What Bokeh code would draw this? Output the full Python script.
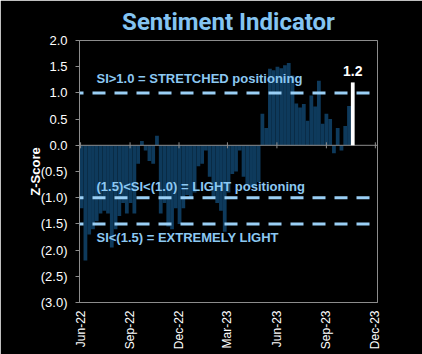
import math
import pandas as pd
from bokeh.plotting import figure
from bokeh.models import (Span, Label, FixedTicker, DatetimeTickFormatter, Range1d,
                          ColumnDataSource)
from bokeh.embed import file_html
from bokeh.resources import INLINE

# ---------------- data ----------------
z_scores = [-1.20, -2.20, -1.70, -1.60, -1.45, -1.30, -1.25, -1.30, -1.95, -1.60,
            -1.35, -1.10, -1.30, -1.10, -1.30, -0.35, 0.08, -0.10, -0.30, -0.35,
            0.18, -1.30, -1.10, -1.55, -1.60, -1.20, -1.50, -1.20, -0.95, -1.00,
            -0.90, -0.40, -0.35, -0.10, -0.60, -1.00, -1.10, -1.25, -1.65, -0.90,
            -0.55, -0.50, -0.10, -0.60, -0.75, -0.80, -0.80, -0.70, 0.60, 0.33,
            1.46, 1.43, 1.50, 1.47, 1.53, 1.57, 1.33, 0.80, 0.72, 0.79,
            0.47, 0.95, 0.74, 1.23, 0.41, 0.60, 0.50, -0.15, 0.33, -0.10,
            0.37, 0.75, 1.20]
first_week = "2022-06-03"
week_dates = pd.date_range(first_week, periods=len(z_scores), freq="7D")

x_tick_dates = ["2022-06-01", "2022-09-01", "2022-12-01", "2023-03-01",
                "2023-06-01", "2023-09-01", "2023-12-01"]
y_ticks = [2.0, 1.5, 1.0, 0.5, 0.0, -0.5, -1.0, -1.5, -2.0, -2.5, -3.0]
y_tick_labels = ["2.0", "1.5", "1.0", "0.5", "0.0", "(0.5)", "(1.0)", "(1.5)",
                 "(2.0)", "(2.5)", "(3.0)"]
thresholds = [1.0, -1.0, -1.5]
threshold_texts = ["SI>1.0 = STRETCHED positioning",
                   "(1.5)<SI<(1.0) = LIGHT positioning",
                   "SI<(1.5) = EXTREMELY LIGHT"]
x_start, x_end = pd.Timestamp("2022-05-30"), pd.Timestamp("2023-12-05")
y_lo, y_hi = -3.0, 2.0

# ---------------- style ----------------
BG = "#000000"
BAR = "#0E3A5C"
LIGHT_BLUE = "#9ACFF5"
TEXT_BLUE = "#8CC8F2"
GRAY = "#8C8C8C"
WEEK_MS = 7 * 24 * 3600 * 1000

hist = ColumnDataSource(dict(x=week_dates[:-1], top=z_scores[:-1]))
last = ColumnDataSource(dict(x=week_dates[-1:], top=z_scores[-1:]))

p = figure(width=422, height=354, x_axis_type="datetime",
           x_range=Range1d(x_start, x_end), y_range=Range1d(y_lo, y_hi),
           output_backend="svg", toolbar_location=None,
           background_fill_color=BG, border_fill_color=BG,
           min_border_left=79, min_border_right=45, min_border_top=40,
           min_border_bottom=52)
p.outline_line_color = GRAY
p.outline_line_width = 1
p.grid.visible = False

p.title.text = "Sentiment Indicator"
p.title.align = "center"
p.title.offset = -20
p.title.text_color = "#84C4F2"
p.title.text_font = "Roboto"
p.title.text_font_style = "bold"
p.title.text_font_size = "24px"
p.title.standoff = 9

p.vbar(x="x", top="top", width=WEEK_MS, source=hist, fill_color=BAR, line_color=None)

p.add_layout(Span(location=0, dimension="width", line_color=GRAY, line_width=1))
p.scatter(x=pd.to_datetime(x_tick_dates), y=[0] * len(x_tick_dates), marker="dash",
          angle=math.pi / 2, size=6, line_color=GRAY, line_width=1)

for t in thresholds:
    p.add_layout(Span(location=t, dimension="width", line_color=LIGHT_BLUE,
                      line_width=3, line_dash="13 9", line_dash_offset=9))

wr = p.vbar(x="x", top="top", width=WEEK_MS, source=last, fill_color="white",
            line_color=None)
wr.level = "overlay"

offsets = [14, 11, -14]
for t, txt, off in zip(thresholds, threshold_texts, offsets):
    p.add_layout(Label(x=x_start, y=t, x_offset=17, y_offset=off, text=txt,
                       text_color=TEXT_BLUE, text_font="Liberation Sans",
                       text_font_style="bold", text_font_size="13px",
                       text_baseline="middle", text_align="left"))

p.add_layout(Label(x=week_dates[-1], y=z_scores[-1], y_offset=6,
                   text=f"{z_scores[-1]:.1f}", text_color="white",
                   text_font="Liberation Sans", text_font_style="bold",
                   text_font_size="14px", text_align="center",
                   text_baseline="bottom"))

# y axis
ya = p.yaxis[0]
ya.ticker = FixedTicker(ticks=y_ticks)
ya.major_label_overrides = {t: l for t, l in zip(y_ticks, y_tick_labels)}
ya.minor_tick_line_color = None
ya.major_tick_in = 0
ya.major_tick_out = 4
ya.major_tick_line_color = GRAY
ya.axis_line_color = GRAY
ya.major_label_text_color = "white"
ya.major_label_text_font = "Liberation Sans"
ya.major_label_text_font_size = "13px"
ya.major_label_standoff = 8
ya.axis_label = "Z-Score"
ya.axis_label_text_color = "white"
ya.axis_label_text_font = "Liberation Sans"
ya.axis_label_text_font_style = "bold"
ya.axis_label_text_font_size = "13px"
ya.axis_label_standoff = -5

# x axis
xa = p.xaxis[0]
xa.ticker = FixedTicker(ticks=[pd.Timestamp(d).value // 10**6 for d in x_tick_dates])
xa.formatter = DatetimeTickFormatter(months="%b-%y", days="%b-%y")
xa.minor_tick_line_color = None
xa.major_tick_line_color = None
xa.major_tick_out = 0
xa.major_tick_in = 0
xa.axis_line_color = GRAY
xa.major_label_orientation = math.pi / 2
xa.major_label_text_color = "white"
xa.major_label_text_font = "Liberation Sans"
xa.major_label_text_font_size = "12px"
xa.major_label_standoff = 8

open("out.html", "w").write(file_html(p, INLINE))
